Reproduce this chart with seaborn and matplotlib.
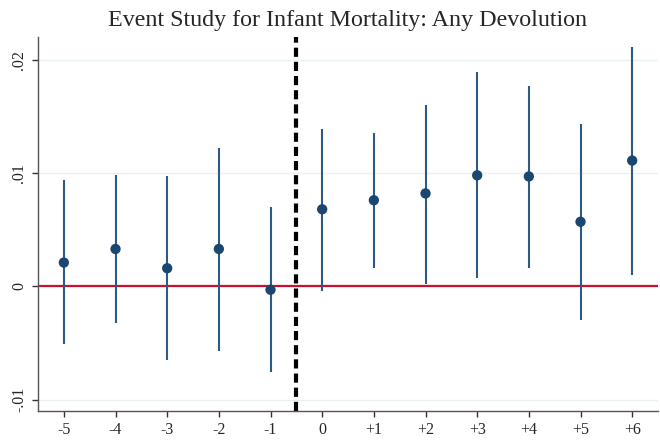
import matplotlib
matplotlib.use("Agg")
import matplotlib.pyplot as plt
import seaborn as sns
import pandas as pd
import numpy as np

periods = [-5, -4, -3, -2, -1, 0, 1, 2, 3, 4, 5, 6]
tick_labels = ["-5", "-4", "-3", "-2", "-1", "0", "+1", "+2", "+3", "+4", "+5", "+6"]
coef = [0.0021, 0.0033, 0.0016, 0.0033, -0.0003, 0.0068, 0.0076, 0.0082, 0.0098, 0.0097, 0.0057, 0.0111]
ci_low = [-0.0051, -0.0032, -0.0065, -0.0057, -0.0076, -0.0004, 0.0016, 0.0002, 0.0007, 0.0016, -0.0030, 0.0010]
ci_high = [0.0094, 0.0098, 0.0097, 0.0122, 0.0070, 0.0139, 0.0135, 0.0160, 0.0189, 0.0177, 0.0143, 0.0211]
yticks = [-0.01, 0, 0.01, 0.02]
ytick_labels = ["-.01", "0", ".01", ".02"]
title = "Event Study for Infant Mortality: Any Devolution"

df = pd.DataFrame({"period": periods, "coef": coef, "lo": ci_low, "hi": ci_high})

sns.set_theme(style="white")
plt.rcParams["font.family"] = ["Liberation Serif", "DejaVu Serif"]

fig = plt.figure(figsize=(6.6, 4.41), dpi=100)
ax = fig.add_axes([0.0576, 0.068, 0.9394, 0.848])

for y in yticks:
    ax.axhline(y, color="#e8f0f2", lw=1.0, zorder=0)

ax.axhline(0, color="#c8102e", lw=1.6, zorder=1)
ax.axvline(-0.5, color="black", lw=3.0, ls=(0, (2.2, 1.2)), zorder=2)

ax.vlines(df["period"], df["lo"], df["hi"], color="#2a5a85", lw=1.5, zorder=3)
sns.scatterplot(data=df, x="period", y="coef", ax=ax, color="#1a476f", s=55,
                edgecolor="none", zorder=4, legend=False)

ax.set_xlim(-5.5, 6.5)
ax.set_ylim(-0.011, 0.022)
ax.set_xticks(periods)
ax.set_xticklabels(tick_labels, fontsize=11.5)
ax.set_yticks(yticks)
ax.set_yticklabels(ytick_labels, fontsize=11.5, rotation=90, va="center")
ax.set_xlabel("")
ax.set_ylabel("")

for s in ["top", "right"]:
    ax.spines[s].set_visible(False)
for s in ["left", "bottom"]:
    ax.spines[s].set_color("#555555")
    ax.spines[s].set_linewidth(1.0)
ax.tick_params(axis="both", which="both", length=4, width=1.0, color="#333333",
               direction="out", bottom=True, left=True, pad=4)

fig.text(0.527, 0.953, title, ha="center", va="center", fontsize=17.3)

fig.savefig("out.png", dpi=100)
